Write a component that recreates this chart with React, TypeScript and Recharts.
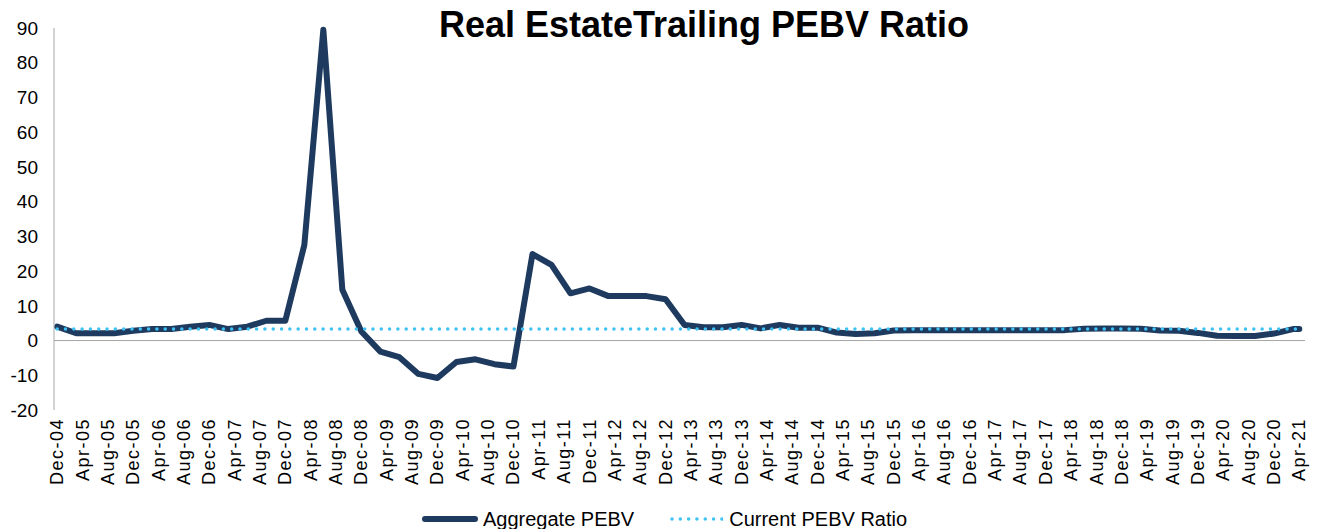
import React from "react";
import { LineChart, Line, XAxis, YAxis, ReferenceLine, Legend } from "recharts";

// quarterly observations (plus the latest month)
const quarterDates = [
  "Dec-04", "Mar-05", "Jun-05", "Sep-05", "Dec-05", "Mar-06", "Jun-06", "Sep-06",
  "Dec-06", "Mar-07", "Jun-07", "Sep-07", "Dec-07", "Mar-08", "Jun-08", "Sep-08",
  "Dec-08", "Mar-09", "Jun-09", "Sep-09", "Dec-09", "Mar-10", "Jun-10", "Sep-10",
  "Dec-10", "Mar-11", "Jun-11", "Sep-11", "Dec-11", "Mar-12", "Jun-12", "Sep-12",
  "Dec-12", "Mar-13", "Jun-13", "Sep-13", "Dec-13", "Mar-14", "Jun-14", "Sep-14",
  "Dec-14", "Mar-15", "Jun-15", "Sep-15", "Dec-15", "Mar-16", "Jun-16", "Sep-16",
  "Dec-16", "Mar-17", "Jun-17", "Sep-17", "Dec-17", "Mar-18", "Jun-18", "Sep-18",
  "Dec-18", "Mar-19", "Jun-19", "Sep-19", "Dec-19", "Mar-20", "Jun-20", "Sep-20",
  "Dec-20", "Mar-21", "Apr-21",
];

const aggregatePEBV = [
  4.0, 2.1, 2.1, 2.1, 2.8, 3.3, 3.3, 4.0,
  4.5, 3.3, 4.0, 5.7, 5.7, 27.5, 89.5, 14.6,
  2.6, -3.2, -4.8, -9.6, -10.8, -6.2, -5.4, -6.8,
  -7.5, 24.9, 21.8, 13.6, 15.0, 12.8, 12.8, 12.8,
  11.9, 4.5, 3.8, 3.8, 4.5, 3.5, 4.5, 3.7,
  3.7, 2.3, 1.9, 2.1, 2.9, 3.0, 3.0, 3.0,
  3.0, 3.0, 3.0, 3.0, 3.0, 3.0, 3.4, 3.5,
  3.5, 3.4, 2.9, 2.8, 2.2, 1.4, 1.3, 1.3,
  2.0, 3.3, 3.3,
];

const currentPEBV = 3.3;

const tickLabels = [
  "Dec-04", "Apr-05", "Aug-05", "Dec-05", "Apr-06", "Aug-06", "Dec-06", "Apr-07",
  "Aug-07", "Dec-07", "Apr-08", "Aug-08", "Dec-08", "Apr-09", "Aug-09", "Dec-09",
  "Apr-10", "Aug-10", "Dec-10", "Apr-11", "Aug-11", "Dec-11", "Apr-12", "Aug-12",
  "Dec-12", "Apr-13", "Aug-13", "Dec-13", "Apr-14", "Aug-14", "Dec-14", "Apr-15",
  "Aug-15", "Dec-15", "Apr-16", "Aug-16", "Dec-16", "Apr-17", "Aug-17", "Dec-17",
  "Apr-18", "Aug-18", "Dec-18", "Apr-19", "Aug-19", "Dec-19", "Apr-20", "Aug-20",
  "Dec-20", "Apr-21",
];

const yTicks = [-20, -10, 0, 10, 20, 30, 40, 50, 60, 70, 80, 90];

const MONTHS = ["Jan", "Feb", "Mar", "Apr", "May", "Jun", "Jul", "Aug", "Sep", "Oct", "Nov", "Dec"];

// months since Dec-04
const monthIndex = (label: string) => {
  const [mon, yy] = label.split("-");
  return (Number(yy) - 4) * 12 + MONTHS.indexOf(mon) - 11;
};

const data = quarterDates.map((d, i) => ({
  m: monthIndex(d),
  date: d,
  aggregate: aggregatePEBV[i],
  current: currentPEBV,
}));

const xTicks = tickLabels.map(monthIndex);
const labelFor = new Map(tickLabels.map((l) => [monthIndex(l), l]));

const NAVY = "#1e3a5f";
const SKY = "#3dc2f4";
const GREY = "#a6a6a6";
const FONT = "'Liberation Sans', Arial, sans-serif";

const XTick = (props: any) => {
  const { x, y, payload } = props;
  return (
    <text
      x={x}
      y={y}
      transform={`rotate(-90 ${x} ${y})`}
      textAnchor="end"
      dominantBaseline="central"
      fontSize={18}
      fontFamily={FONT}
      fill="#000"
      letterSpacing={1.5}
    >
      {labelFor.get(payload.value)}
    </text>
  );
};

const LegendContent = () => (
  <div
    style={{
      height: 39,
      display: "flex",
      alignItems: "flex-end",
      fontFamily: FONT,
      fontSize: 20,
      color: "#000",
      paddingLeft: 422,
    }}
  >
    <div style={{ display: "flex", alignItems: "center", height: 20 }}>
      <svg width={56} height={10}>
        <line x1={3} y1={5} x2={53} y2={5} stroke={NAVY} strokeWidth={6} strokeLinecap="round" />
      </svg>
      <span style={{ marginLeft: 5 }}>Aggregate PEBV</span>
      <svg width={53} height={10} style={{ marginLeft: 36 }}>
        <line
          x1={2}
          y1={5}
          x2={52}
          y2={5}
          stroke={SKY}
          strokeWidth={3.5}
          strokeDasharray="0.01 8.3"
          strokeLinecap="round"
        />
      </svg>
      <span style={{ marginLeft: 6 }}>Current PEBV Ratio</span>
    </div>
  </div>
);

export default function App() {
  return (
    <div style={{ position: "absolute", left: 0, top: 0, width: 1317, height: 529, background: "#fff" }}>
      <div
        style={{
          position: "absolute",
          left: 0,
          width: 1408,
          top: 7,
          textAlign: "center",
          fontFamily: FONT,
          fontWeight: "bold",
          fontSize: 36,
          lineHeight: "36px",
          color: "#000",
          zIndex: 2,
        }}
      >
        Real EstateTrailing PEBV Ratio
      </div>
      <LineChart
        width={1317}
        height={529}
        data={data}
        margin={{ top: 28, right: 12, left: 0, bottom: 0 }}
      >
        <XAxis
          dataKey="m"
          type="number"
          domain={[-0.5, 196.9]}
          ticks={xTicks}
          interval={0}
          axisLine={false}
          tickLine={false}
          tickSize={0}
          tickMargin={8}
          height={80}
          tick={<XTick />}
        />
        <YAxis
          domain={[-20, 90]}
          ticks={yTicks}
          interval={0}
          width={54}
          axisLine={{ stroke: GREY, strokeWidth: 1 }}
          tickLine={false}
          tickSize={0}
          tickMargin={16}
          tick={{ fontSize: 19, fontFamily: FONT, fill: "#000" }}
        />
        <ReferenceLine y={0} stroke={GREY} strokeWidth={1} />
        <Line
          type="linear"
          dataKey="aggregate"
          name="Aggregate PEBV"
          stroke={NAVY}
          strokeWidth={6}
          strokeLinejoin="round"
          strokeLinecap="round"
          dot={false}
          activeDot={false}
          isAnimationActive={false}
        />
        <Line
          type="linear"
          dataKey="current"
          name="Current PEBV Ratio"
          stroke={SKY}
          strokeWidth={3.5}
          strokeDasharray="0.01 8.3"
          strokeLinecap="round"
          dot={false}
          activeDot={false}
          isAnimationActive={false}
        />
        <Legend verticalAlign="bottom" height={39} content={<LegendContent />} />
      </LineChart>
    </div>
  );
}
